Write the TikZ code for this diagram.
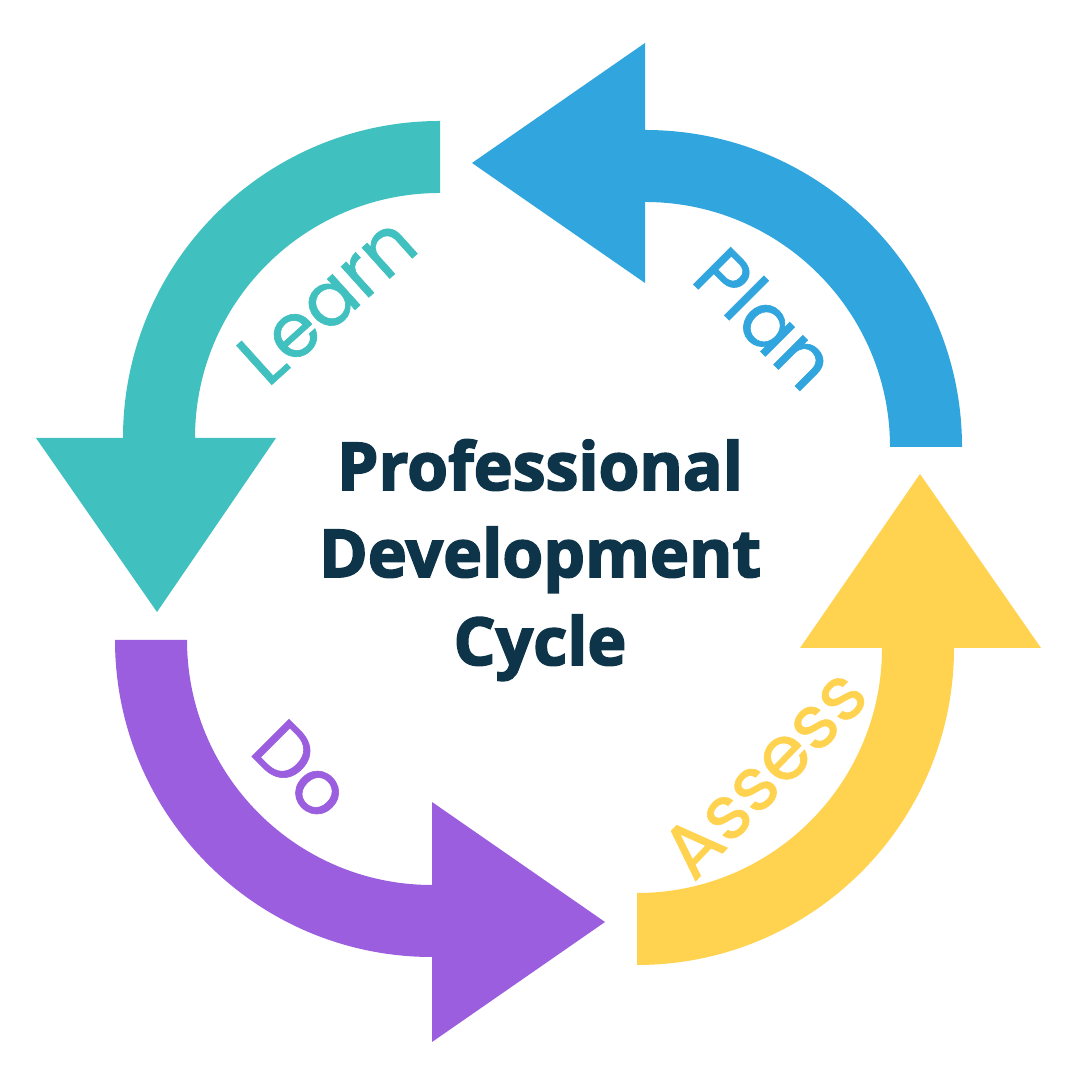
\documentclass[tikz,border=0pt]{standalone}
\usepackage{fontspec}
\setmainfont{Open Sans}
\newfontfamily\titlefont{Open Sans}[BoldFeatures={FakeBold=2.6}]
\newfontfamily\labelfont{Poppins}[FakeBold=0.8]
\definecolor{planblue}{HTML}{31A5DD}
\definecolor{learnteal}{HTML}{41C0C0}
\definecolor{dopurple}{HTML}{9A5EDE}
\definecolor{assessyellow}{HTML}{FFD34F}
\definecolor{titlenavy}{HTML}{0D3448}
\begin{document}
\begin{tikzpicture}[
  title/.style={anchor=base, text=titlenavy, font=\titlefont\fontsize{18.8}{25}\selectfont\bfseries},
  steplabel/.style={font=\labelfont\fontsize{21.5}{25}\selectfont, inner sep=0pt}]
\fill[white] (0,0) rectangle (10.8,10.8);
\useasboundingbox (0,0) rectangle (10.8,10.8);
%plan
\fill[planblue] (9.62,6.33) arc[start angle=0, end angle=90, radius=3.17]
  -- (6.45,10.37) -- (4.72,9.17) -- (6.45,7.97) -- (6.45,8.78)
  arc[start angle=90, end angle=0, radius=2.45] -- cycle;
%learn
\fill[learnteal] (4.40,9.59) arc[start angle=90, end angle=180, radius=3.17]
  -- (0.36,6.42) -- (1.57,4.68) -- (2.76,6.42) -- (1.95,6.42)
  arc[start angle=180, end angle=90, radius=2.45] -- cycle;
%do
\fill[dopurple] (1.15,4.40) arc[start angle=180, end angle=270, radius=3.17]
  -- (4.32,0.38) -- (6.05,1.58) -- (4.32,2.78) -- (4.32,1.95)
  arc[start angle=270, end angle=180, radius=2.45] -- cycle;
%assess
\fill[assessyellow] (6.37,1.15) arc[start angle=270, end angle=360, radius=3.17]
  -- (10.41,4.32) -- (9.20,6.06) -- (8.00,4.32) -- (8.82,4.32)
  arc[start angle=0, end angle=-90, radius=2.45] -- cycle;
%labels
\node[steplabel, text=planblue, rotate=-45] (plan) at (7.66,7.62) {Plan};
\node[steplabel, text=learnteal, rotate=42] (learn) at (3.27,7.80) {Learn};
\node[steplabel, text=dopurple, rotate=-45] (do) at (3.02,3.10) {Do};
\node[steplabel, text=assessyellow, rotate=46] (assess) at (7.64,3.07) {Assess};
%title
\node[title] (line1) at (5.40,5.90) {Professional};
\node[title] (line2) at (5.40,5.03) {Development};
\node[title] (line3) at (5.40,4.15) {Cycle};
\end{tikzpicture}
\end{document}
